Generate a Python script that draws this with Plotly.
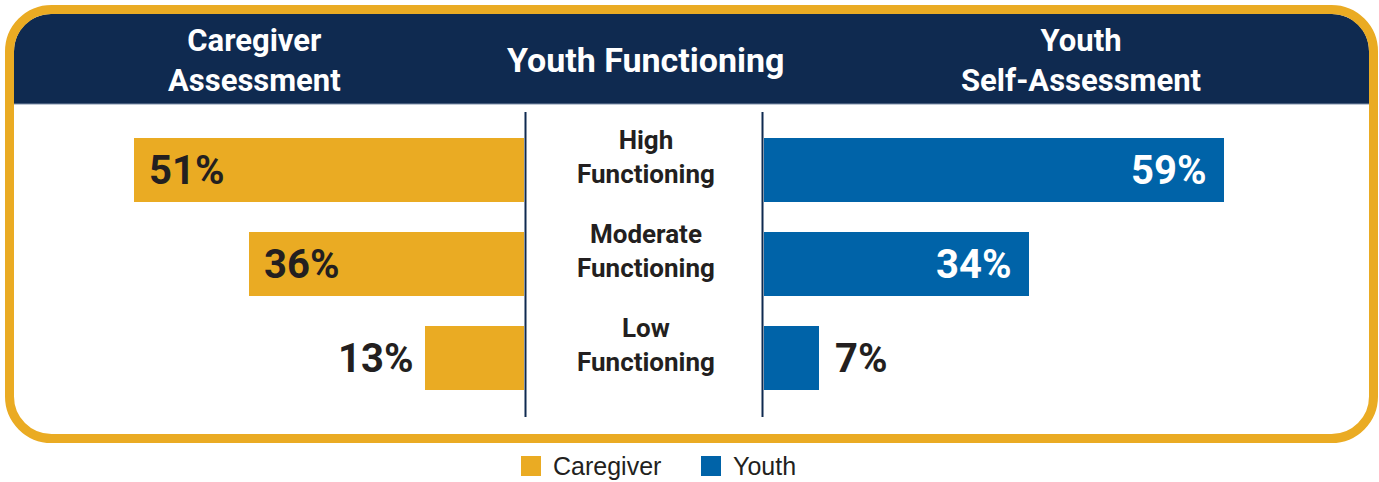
import plotly.graph_objects as go

W, H = 1379, 482

# Data
levels = ["High Functioning", "Moderate Functioning", "Low Functioning"]
caregiver = [51, 36, 13]
youth = [59, 34, 7]

header_left = "Caregiver<br>Assessment"
header_mid = "Youth Functioning"
header_right = "Youth<br>Self-Assessment"
legend_names = ["Caregiver", "Youth"]

GOLD = "#EAAB23"
NAVY = "#0F2A50"
BLUE = "#0063A8"
INK = "#231F20"
COND = "Roboto, Liberation Sans, Arial, sans-serif"
REG = "Liberation Sans, Arial, Helvetica, sans-serif"


def px(x):
    return x / W


def py(y):
    return 1 - y / H


def rounded_path(x0, y0, x1, y1, r, square_bottom=False):
    k = 0.5523 * r
    pts = []
    pts.append(f"M {px(x0)},{py(y1 if square_bottom else y1 - r)}")
    pts.append(f"L {px(x0)},{py(y0 + r)}")
    pts.append(f"C {px(x0)},{py(y0 + r - k)} {px(x0 + r - k)},{py(y0)} {px(x0 + r)},{py(y0)}")
    pts.append(f"L {px(x1 - r)},{py(y0)}")
    pts.append(f"C {px(x1 - r + k)},{py(y0)} {px(x1)},{py(y0 + r - k)} {px(x1)},{py(y0 + r)}")
    if square_bottom:
        pts.append(f"L {px(x1)},{py(y1)}")
    else:
        pts.append(f"L {px(x1)},{py(y1 - r)}")
        pts.append(f"C {px(x1)},{py(y1 - r + k)} {px(x1 - r + k)},{py(y1)} {px(x1 - r)},{py(y1)}")
        pts.append(f"L {px(x0 + r)},{py(y1)}")
        pts.append(f"C {px(x0 + r - k)},{py(y1)} {px(x0)},{py(y1 - r + k)} {px(x0)},{py(y1 - r)}")
    pts.append("Z")
    return " ".join(pts)


fig = go.Figure()

fig.add_trace(go.Bar(
    y=levels, x=caregiver, orientation="h", xaxis="x", yaxis="y",
    marker=dict(color=GOLD, line=dict(width=0)), width=0.68,
    name=legend_names[0], showlegend=False, hoverinfo="x+y",
))
fig.add_trace(go.Bar(
    y=levels, x=youth, orientation="h", xaxis="x2", yaxis="y",
    marker=dict(color=BLUE, line=dict(width=0)), width=0.68,
    name=legend_names[1], showlegend=False, hoverinfo="x+y",
))

LEFT_ZERO, LEFT_SCALE = 524, 7.65
RIGHT_ZERO, RIGHT_SCALE = 764, 7.8
left_max = 60
right_max = 75

fig.update_layout(
    width=W, height=H,
    margin=dict(l=0, r=0, t=0, b=0),
    paper_bgcolor="white", plot_bgcolor="rgba(0,0,0,0)",
    bargap=0,
    xaxis=dict(domain=[px(LEFT_ZERO - LEFT_SCALE * left_max), px(LEFT_ZERO)],
               range=[left_max, 0], visible=False, fixedrange=True),
    xaxis2=dict(domain=[px(RIGHT_ZERO), px(RIGHT_ZERO + RIGHT_SCALE * right_max)],
                range=[0, right_max], visible=False, fixedrange=True),
    yaxis=dict(domain=[py(405), py(123)], range=[2.5, -0.5],
               visible=False, fixedrange=True),
)

shapes = []
# Navy header band
shapes.append(dict(type="path", xref="paper", yref="paper",
                   path=rounded_path(14, 14, 1369, 104, 37, square_bottom=True),
                   fillcolor=NAVY, line=dict(width=0), layer="below"))
shapes.append(dict(type="line", xref="paper", yref="paper",
                   x0=px(14), x1=px(1369), y0=py(104), y1=py(104),
                   line=dict(color="#7F8FA8", width=1), layer="below"))
# Gold frame
shapes.append(dict(type="path", xref="paper", yref="paper",
                   path=rounded_path(9.5, 9.5, 1373.5, 438.5, 42),
                   fillcolor="rgba(0,0,0,0)", line=dict(color=GOLD, width=9), layer="above"))
# Divider lines around the centre column
for xl in (525.5, 762.5):
    shapes.append(dict(type="line", xref="paper", yref="paper",
                       x0=px(xl), x1=px(xl), y0=py(112), y1=py(417),
                       line=dict(color=NAVY, width=2)))
# Legend swatches
shapes.append(dict(type="rect", xref="paper", yref="paper",
                   x0=px(521), x1=px(541), y0=py(476), y1=py(456),
                   fillcolor=GOLD, line=dict(width=0)))
shapes.append(dict(type="rect", xref="paper", yref="paper",
                   x0=px(701), x1=px(721), y0=py(476), y1=py(456),
                   fillcolor=BLUE, line=dict(width=0)))

ann = []


def text(x, y, s, size, color, family=COND, anchor="center", bold=True):
    ann.append(dict(xref="paper", yref="paper", x=px(x), y=py(y), text=f"<b>{s}</b>" if bold else s,
                    showarrow=False, xanchor=anchor, yanchor="middle", align="center",
                    font=dict(family=family, size=size, color=color)))


# Header titles
text(254, 60, header_left, 31, "white")
text(646, 60, header_mid, 34, "white")
text(1081, 60, header_right, 31, "white")

# Centre category labels
for i, lvl in enumerate(levels):
    cy = 157 + 94 * i
    text(646, cy, lvl.replace(" ", "<br>", 1), 26, INK)

# Value labels
for i, v in enumerate(caregiver):
    inside = v >= 20
    ann.append(dict(xref="x", yref="y", x=v, y=levels[i], text=f"<b>{v}%</b>",
                    showarrow=False, yanchor="middle",
                    xanchor="left" if inside else "right",
                    xshift=13 if inside else -10,
                    font=dict(family=COND, size=40, color=INK)))
for i, v in enumerate(youth):
    inside = v >= 20
    ann.append(dict(xref="x2", yref="y", x=v, y=levels[i], text=f"<b>{v}%</b>",
                    showarrow=False, yanchor="middle",
                    xanchor="right" if inside else "left",
                    xshift=-16 if inside else 14,
                    font=dict(family=COND, size=40, color="white" if inside else INK)))

# Legend labels
text(551, 466, legend_names[0], 25, INK, family=REG, anchor="left", bold=False)
text(731, 466, legend_names[1], 25, INK, family=REG, anchor="left", bold=False)

fig.update_layout(shapes=shapes, annotations=ann)

fig.write_html("out.html")
